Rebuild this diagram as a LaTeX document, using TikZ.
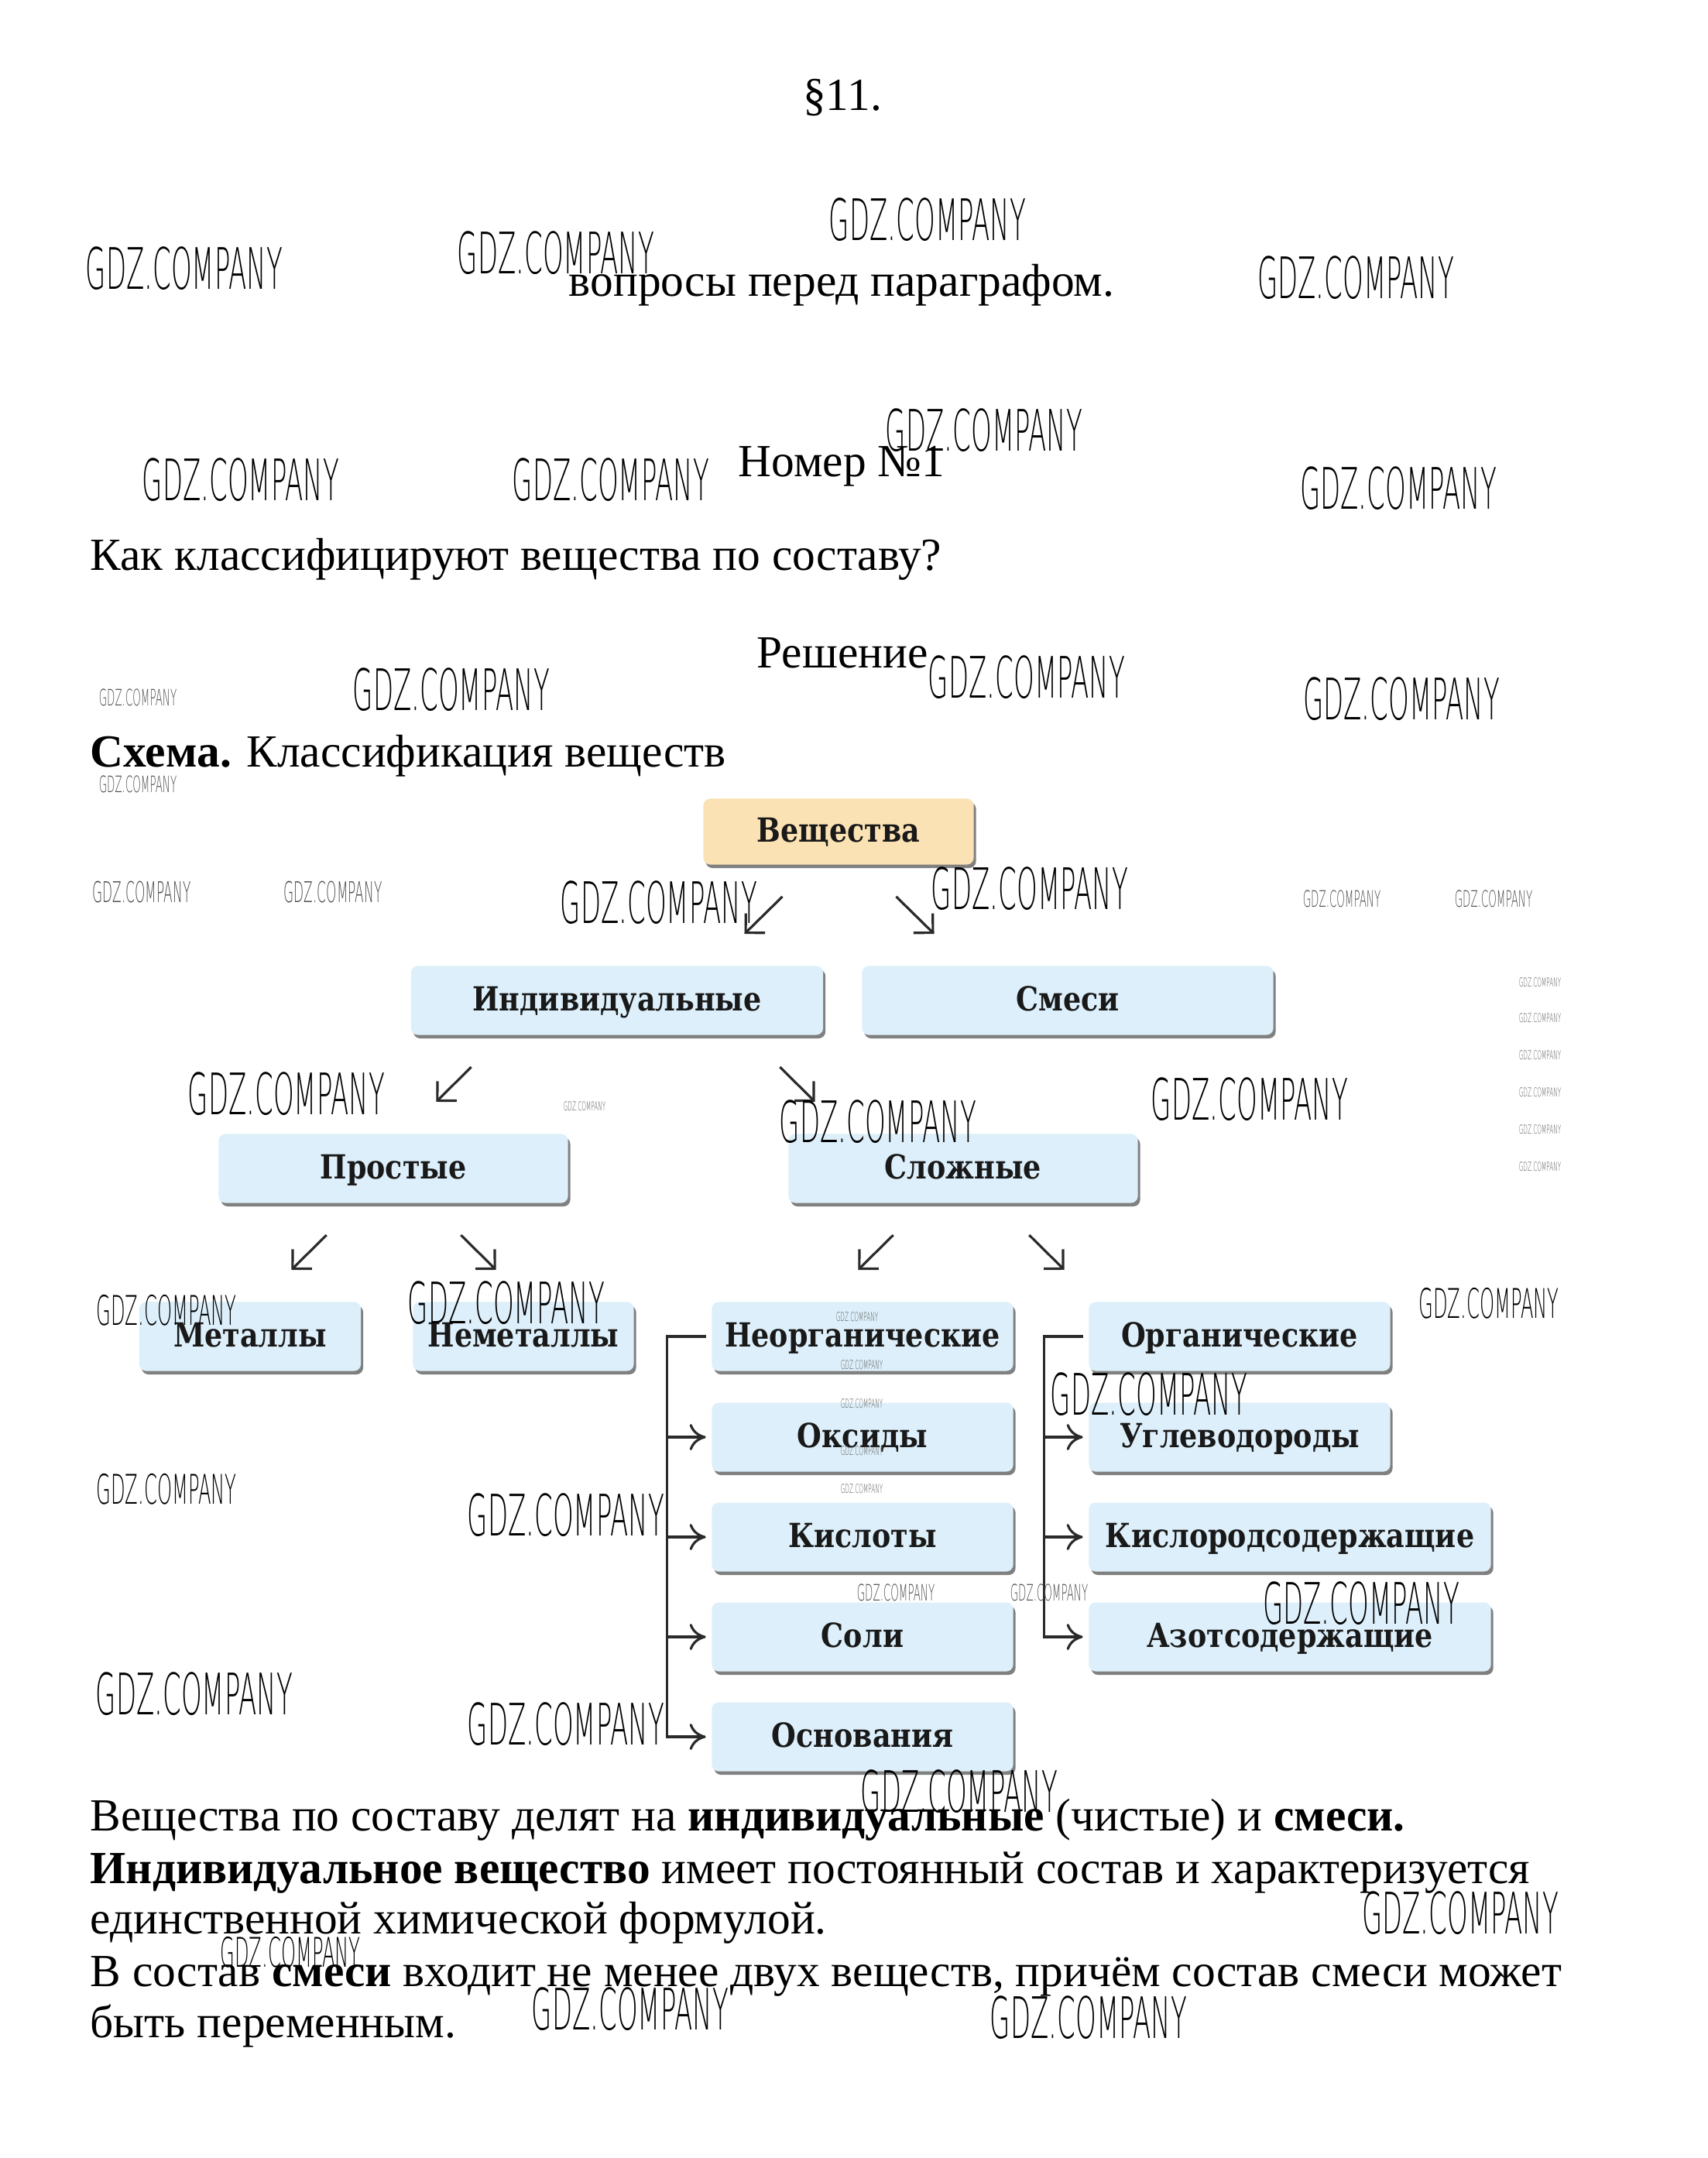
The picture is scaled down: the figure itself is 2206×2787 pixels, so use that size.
\documentclass[tikz,border=0pt]{standalone}
\usepackage{fontspec}
\setmainfont{Liberation Serif}
\newfontfamily\boxfont[FakeStretch=0.85]{DejaVu Serif}
\newfontfamily\wmfont[FakeStretch=0.46]{DejaVu Sans ExtraLight}
\usetikzlibrary{arrows.meta,shadows}

\definecolor{boxblue}{HTML}{DDEFFA}
\definecolor{boxorange}{HTML}{FBE2B4}
\definecolor{linegray}{HTML}{2A2A2A}

\tikzset{
    txt/.style={inner sep=0pt, font=\fontsize{16.9}{20}\selectfont, text height=12pt, text depth=3.7pt},
    klass/.style={fill=boxblue, rounded corners=2.5pt, inner sep=0pt, minimum height=0.89cm,
        font=\boxfont\bfseries\fontsize{12.2}{13}\selectfont, text=black!90,
        text height=0.76em, text depth=0pt,
        drop shadow={shadow xshift=0.03cm, shadow yshift=-0.045cm, fill=black!50, opacity=1}},
    diag/.style={draw=linegray, line width=0.9pt, shorten <=0.58cm, shorten >=0.58cm,
        -{Straight Barb[angle=90:0.25cm]}},
    fork/.style={draw=linegray, line width=0.9pt},
    forkarr/.style={fork, -{To[length=0.21cm, width=0.34cm]}},
    wmL/.style={inner sep=0pt, font=\wmfont\fontsize{21}{21}\selectfont},
    wmM/.style={inner sep=0pt, font=\wmfont\fontsize{15}{15}\selectfont},
    wmS/.style={inner sep=0pt, text=black!70, font=\wmfont\fontsize{10.5}{10.5}\selectfont},
    wmXS/.style={inner sep=0pt, text=black!70, font=\wmfont\fontsize{8.3}{8.3}\selectfont},
    wmT/.style={inner sep=0pt, text=black!65, font=\wmfont\fontsize{4.5}{4.5}\selectfont},
}

\begin{document}
\begin{tikzpicture}[x=0.01cm, y=-0.01cm]
    \useasboundingbox[fill=white] (0,0) rectangle (2206,2787);

    % heading and question
    \node[txt] (par) at (1088,128) {§11.};
    \node[txt] (vopr) at (1087,368) {вопросы перед параграфом.};
    \node[txt] (nomer) at (1087,601) {Номер №1};
    \node[txt, anchor=west] (vopros) at (116,722) {Как классифицируют вещества по составу?};
    \node[txt] (resh) at (1088,848) {Решение};
    \node[txt, anchor=west] (shema) at (116,976) {\textbf{Схема.} Классификация веществ};

    % scheme boxes
    \node[klass, fill=boxorange, minimum width=3.49cm, minimum height=0.85cm] (ves) at (1083,1074) {Вещества};

    \node[klass, minimum width=5.32cm] (ind) at (797,1292) {Индивидуальные};
    \node[klass, minimum width=5.31cm] (smes) at (1379,1292) {Смеси};

    \node[klass, minimum width=4.51cm] (prost) at (508,1509) {Простые};
    \node[klass, minimum width=4.51cm] (slozh) at (1244,1509) {Сложные};

    \node[klass, minimum width=2.86cm] (met) at (323,1726) {Металлы};
    \node[klass, minimum width=2.85cm] (nemet) at (676,1726) {Неметаллы};

    \node[klass, minimum width=3.89cm] (neorg) at (1114,1726) {Неорганические};
    \node[klass, minimum width=3.89cm] (oks) at (1114,1856) {Оксиды};
    \node[klass, minimum width=3.89cm] (kisl) at (1114,1985) {Кислоты};
    \node[klass, minimum width=3.89cm] (soli) at (1114,2114) {Соли};
    \node[klass, minimum width=3.89cm] (osn) at (1114,2243) {Основания};

    \node[klass, minimum width=3.89cm] (org) at (1601,1726) {Органические};
    \node[klass, minimum width=3.89cm] (uglev) at (1601,1856) {Углеводороды};
    \node[klass, minimum width=5.19cm] (kislor) at (1666,1985) {Кислородсодержащие};
    \node[klass, minimum width=5.19cm] (azot) at (1666,2114) {Азотсодержащие};

    % diagonal arrows
    \draw[diag] ([xshift=-0.31cm]ves.south) -- ([xshift=1.23cm]ind.north);
    \draw[diag] ([xshift=0.33cm]ves.south) -- ([xshift=-1.31cm]smes.north);
    \draw[diag] ([xshift=-1.47cm]ind.south) -- ([xshift=0.14cm]prost.north);
    \draw[diag] ([xshift=1.69cm]ind.south) -- ([xshift=-1.50cm]slozh.north);
    \draw[diag] ([xshift=-0.45cm]prost.south) -- ([xshift=0.12cm]met.north);
    \draw[diag] ([xshift=0.46cm]prost.south) -- ([xshift=0.06cm]nemet.north);
    \draw[diag] ([xshift=-0.49cm]slozh.south) -- ([xshift=-0.47cm]neorg.north);
    \draw[diag] ([xshift=0.44cm]slozh.south) -- ([xshift=-1.85cm]org.north);

    % inorganic fork
    \coordinate (ltop) at ([xshift=-0.57cm]neorg.west);
    \draw[forkarr] ([xshift=-0.07cm]neorg.west) -- (ltop) -- (ltop |- osn.west) -- ([xshift=-0.07cm]osn.west);
    \foreach \n in {oks,kisl,soli}
        \draw[forkarr] (ltop |- \n.west) -- ([xshift=-0.07cm]\n.west);

    % organic fork
    \coordinate (rtop) at ([xshift=-0.575cm]org.west);
    \draw[forkarr] ([xshift=-0.07cm]org.west) -- (rtop) -- (rtop |- azot.west) -- ([xshift=-0.07cm]azot.west);
    \foreach \n in {uglev,kislor}
        \draw[forkarr] (rtop |- \n.west) -- ([xshift=-0.07cm]\n.west);

    % answer text
    \node[txt, anchor=west] (l1) at (116,2350) {Вещества по составу делят на \textbf{индивидуальные} (чистые) и \textbf{смеси.}};
    \node[txt, anchor=west] (l2) at (116,2418) {\textbf{Индивидуальное вещество} имеет постоянный состав и характеризуется};
    \node[txt, anchor=west] (l3) at (116,2483) {единственной химической формулой.};
    \node[txt, anchor=west] (l4) at (116,2551) {В состав \textbf{смеси} входит не менее двух веществ, причём состав смеси может};
    \node[txt, anchor=west] (l5) at (116,2617) {быть переменным.};

    % watermarks
    \foreach \x/\y [count=\i] in {238/347, 718/327, 1198/284, 1751/359, 311/620, 789/620, 1271/556,
        1806/631, 583/891, 1326/875, 1810/903, 851/1166, 1330/1148, 370/1413, 1134/1449, 1614/1420,
        654/1683, 1484/1801, 731/1957, 1758/2071, 251/2188, 731/2227, 1239/2314, 1886/2471,
        814/2595, 1406/2606}
        \node[wmL] (wmL\i) at (\x,\y) {GDZ.COMPANY};
    \foreach \x/\y [count=\i] in {215/1692, 1923/1683, 215/1923, 375/2521}
        \node[wmM] (wmM\i) at (\x,\y) {GDZ.COMPANY};
    \foreach \x/\y [count=\i] in {183/1152, 430/1152}
        \node[wmS] (wmS\i) at (\x,\y) {GDZ.COMPANY};
    \foreach \x/\y [count=\i] in {178/901, 178/1013, 1733/1161, 1929/1161, 1157/2057, 1355/2057}
        \node[wmXS] (wmXS\i) at (\x,\y) {GDZ.COMPANY};
    \foreach \x/\y [count=\i] in {1989/1269, 1989/1315, 1989/1363, 1989/1411, 1989/1459, 1989/1507,
        755/1429, 1107/1701, 1113/1763, 1113/1813, 1113/1874, 1113/1923}
        \node[wmT] (wmT\i) at (\x,\y) {GDZ.COMPANY};
\end{tikzpicture}
\end{document}
